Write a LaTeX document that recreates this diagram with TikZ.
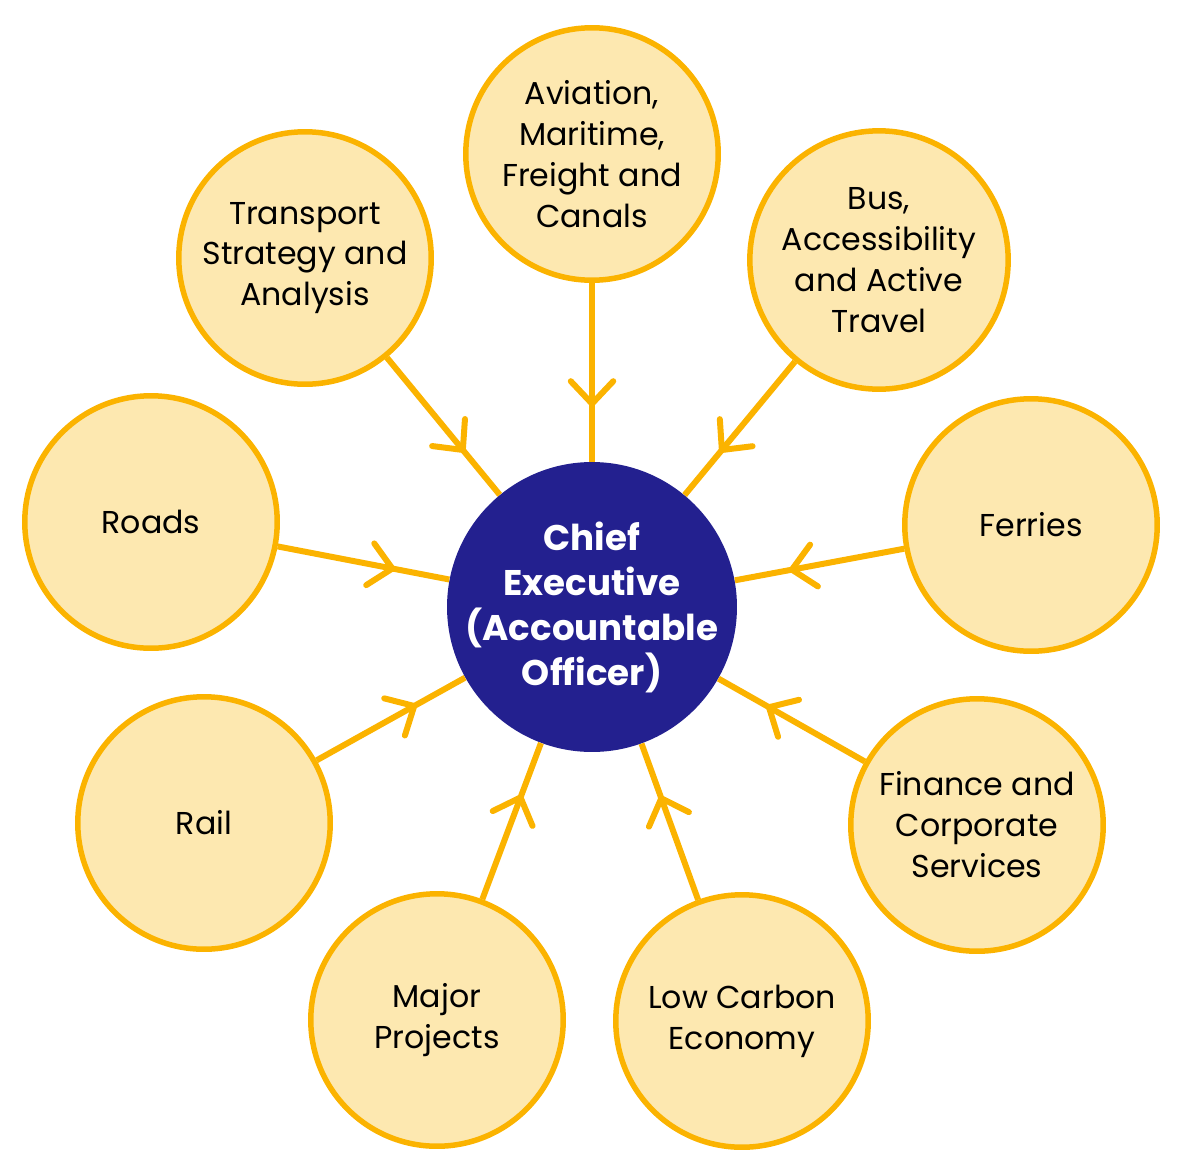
\documentclass[tikz,border=0pt]{standalone}
\usepackage{fontspec}
\setmainfont{Poppins}
\usetikzlibrary{arrows.meta,decorations.markings}
\definecolor{gold}{HTML}{FBB300}
\definecolor{cream}{HTML}{FDE8B0}
\definecolor{navy}{HTML}{23208F}
\tikzset{
  unit/.style={circle, draw=gold, fill=cream, line width=0.11cm, minimum size=5.05cm,
    align=center, font=\fontsize{18}{23.3}\selectfont},
  head/.style={circle, fill=navy, inner sep=0pt, minimum size=5.8cm},
  headtext/.style={text=white, align=center, font=\fontsize{20.3}{25.6}\selectfont\bfseries},
  feed/.style={draw=gold, line width=0.12cm, postaction={decorate},
    decoration={markings, mark=at position -1.1cm with
      {\arrow{Straight Barb[length=4.5mm,width=8.5mm,round]}}}}
}

\begin{document}
\begin{tikzpicture}[x=0.02cm,y=-0.02cm]
  \useasboundingbox (0,0) rectangle (1182,1170);
  \node[head, label={[headtext]center:Chief\\Executive\\(Accountable\\Officer)}] (ce) at (592,607) {};
  \node[unit] (avi) at (592,154) {Aviation,\\Maritime,\\Freight and\\Canals};
  \node[unit] (tsa) at (305,258) {Transport\\Strategy and\\Analysis};
  \node[unit] (bus) at (879,260) {Bus,\\Accessibility\\and Active\\Travel};
  \node[unit] (rds) at (151,522) {Roads};
  \node[unit] (fer) at (1031,525) {Ferries};
  \node[unit] (rai) at (204,823) {Rail};
  \node[unit] (fin) at (977,825) {Finance and\\Corporate\\Services};
  \node[unit] (maj) at (437,1020) {Major\\Projects};
  \node[unit] (low) at (742,1021) {Low Carbon\\Economy};
  % links into the chief executive
  \foreach \n in {avi,tsa,bus,rds,fer,rai,fin,maj,low}
    \draw[feed] (\n) -- (ce);
\end{tikzpicture}
\end{document}
